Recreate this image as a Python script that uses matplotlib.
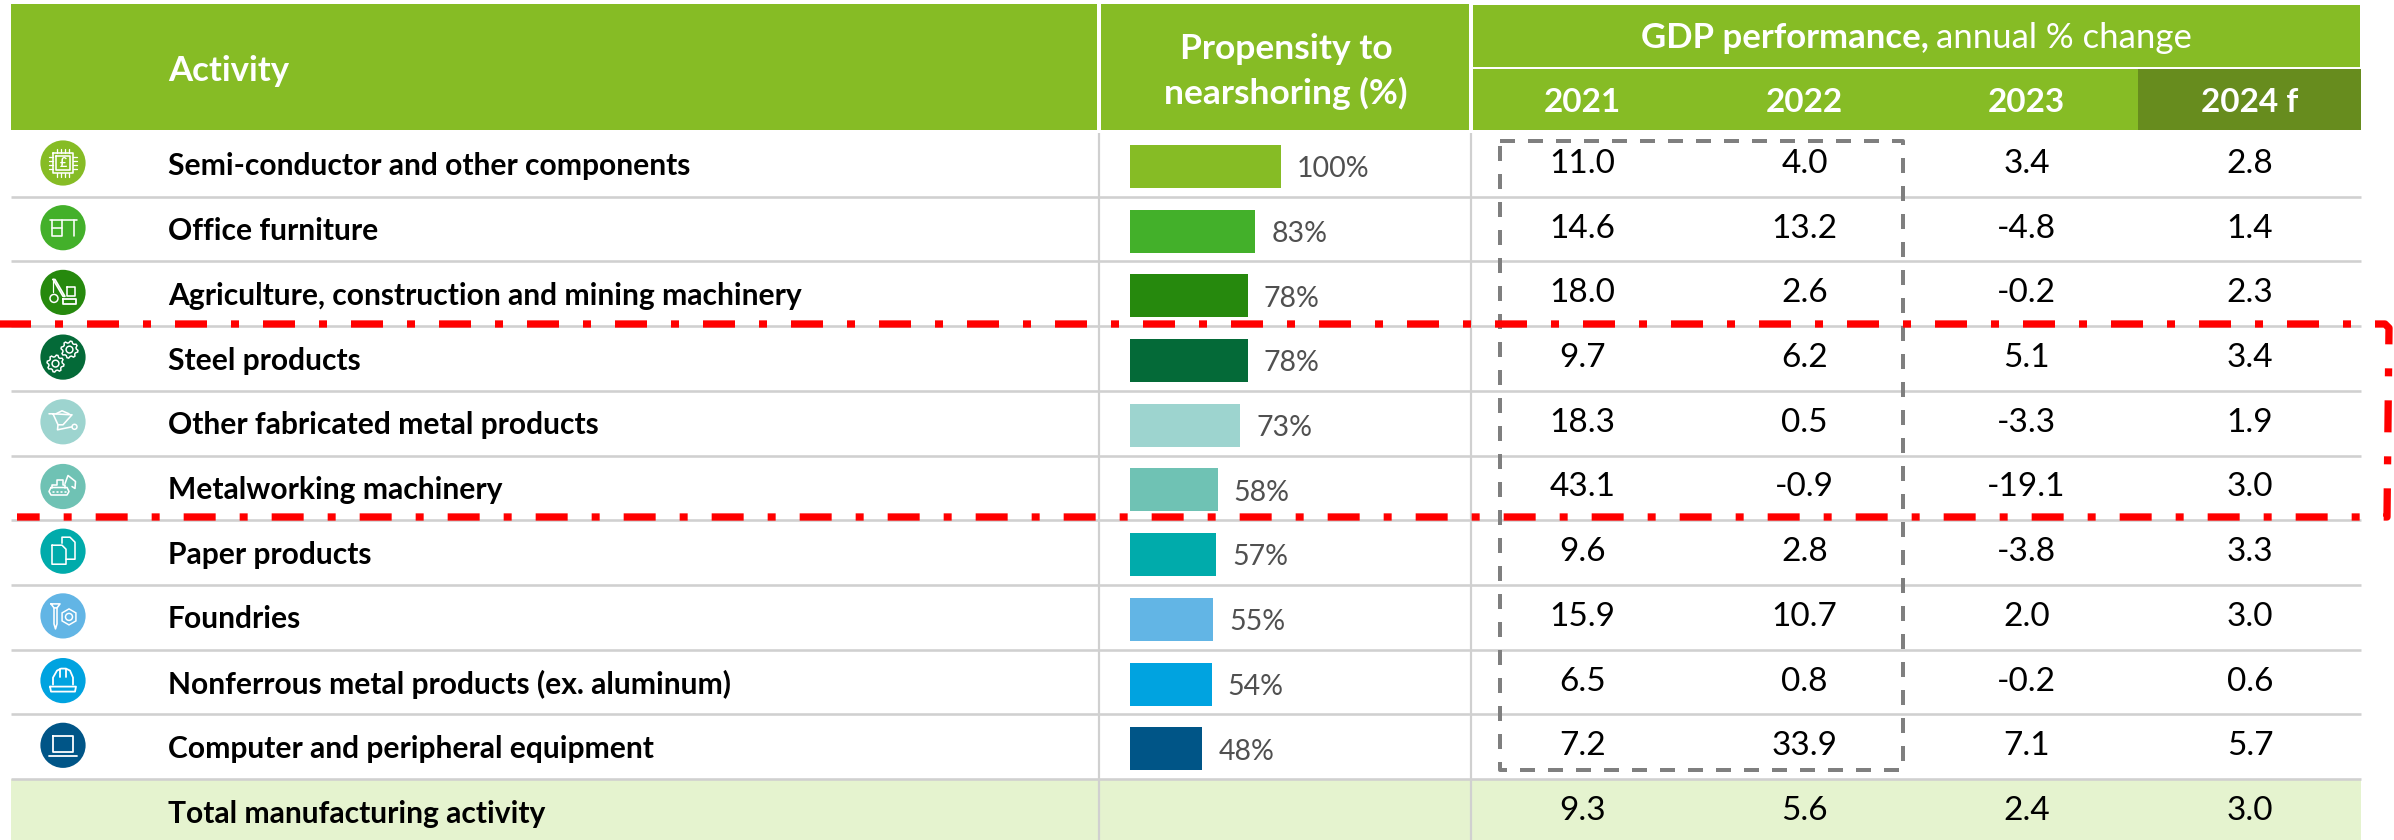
#!/usr/bin/env python3
"""Nearshoring propensity table with GDP performance by activity."""
import numpy as np
import matplotlib
matplotlib.use("Agg")
import matplotlib.pyplot as plt
from matplotlib.patches import Circle, Polygon, Rectangle, RegularPolygon

activities = [
    "Semi-conductor and other components",
    "Office furniture",
    "Agriculture, construction and mining machinery",
    "Steel products",
    "Other fabricated metal products",
    "Metalworking machinery",
    "Paper products",
    "Foundries",
    "Nonferrous metal products (ex. aluminum)",
    "Computer and peripheral equipment",
]
propensity = [100, 83, 78, 78, 73, 58, 57, 55, 54, 48]
gdp_2021 = ["11.0", "14.6", "18.0", "9.7", "18.3", "43.1", "9.6", "15.9", "6.5", "7.2"]
gdp_2022 = ["4.0", "13.2", "2.6", "6.2", "0.5", "-0.9", "2.8", "10.7", "0.8", "33.9"]
gdp_2023 = ["3.4", "-4.8", "-0.2", "5.1", "-3.3", "-19.1", "-3.8", "2.0", "-0.2", "7.1"]
gdp_2024 = ["2.8", "1.4", "2.3", "3.4", "1.9", "3.0", "3.3", "3.0", "0.6", "5.7"]
total_label = "Total manufacturing activity"
total_gdp = ["9.3", "5.6", "2.4", "3.0"]
years = ["2021", "2022", "2023", "2024 f"]
colors = ["#86BC25", "#43B02A", "#26890D", "#046A38", "#9DD4CF",
          "#6FC2B4", "#00ABAB", "#62B5E5", "#00A3E0", "#005587"]

GREEN = "#86BC25"
DARK_GREEN = "#678C1E"
RULE = "#D0D0D0"
PX = 0.72  # points per pixel at dpi 100
ROW_H = 64.7
LEFT, RIGHT = 11, 2361
COL_X = [1582.5, 1804.5, 2026.5, 2250]
FONT = "Lato"

plt.rcParams["font.family"] = [FONT, "DejaVu Sans"]
plt.rcParams["lines.scale_dashes"] = False

fig = plt.figure(figsize=(23.94, 8.4), dpi=100)
ax = fig.add_axes([0, 0, 1, 1])
ax.set_xlim(0, 2394)
ax.set_ylim(840, 0)
ax.axis("off")


def rect(x0, y0, x1, y1, color):
    ax.add_patch(Rectangle((x0, y0), x1 - x0, y1 - y0, fc=color, ec="none"))


# header blocks
rect(LEFT, 4, 1097, 130, GREEN)
rect(1101, 4, 1469, 130, GREEN)
rect(1473, 5, 2360, 66.5, GREEN)
rect(1473, 69, 2138, 130, GREEN)
rect(2138, 69, RIGHT, 130, DARK_GREEN)

# total row and rules
rect(LEFT, 779, RIGHT, 840, "#E5F3CF")
for i in range(1, 11):
    y = 130 + ROW_H * i + 2
    ax.plot([LEFT, RIGHT], [y, y], color=RULE, lw=2.6 * PX, solid_capstyle="butt", zorder=2)
for x in (1099, 1471):
    ax.plot([x, x], [133, 840], color=RULE, lw=2.2 * PX, solid_capstyle="butt", zorder=2)

# header text
ax.text(168, 71, "Activity", color="white", fontsize=25, fontweight="bold", va="center")
ax.text(1286, 49, "Propensity to", color="white", fontsize=25.5, fontweight="bold", ha="center", va="center")
ax.text(1286, 93, "nearshoring (%)", color="white", fontsize=25.5, fontweight="bold", ha="center", va="center")
ax.text(1641, 38, "GDP performance,", color="white", fontsize=25, fontweight="bold", va="center")
ax.text(1936, 38, "annual % change", color="white", fontsize=25, va="center")
for x, year in zip(COL_X, years):
    ax.text(x, 102, year, color="white", fontsize=24, fontweight="bold", ha="center", va="center")

# body text
columns = [gdp_2021, gdp_2022, gdp_2023, gdp_2024]
for i, name in enumerate(activities):
    y = 163 + ROW_H * i
    ax.text(168, y + 3.5, name, color="black", fontsize=21.6, fontweight="bold", va="center")
    for x, col in zip(COL_X, columns):
        ax.text(x, y + 1, col[i], color="black", fontsize=24, ha="center", va="center")
y_total = 163 + ROW_H * 10
ax.text(168, y_total + 3.5, total_label, color="black", fontsize=21.6, fontweight="bold", va="center")
for x, val in zip(COL_X, total_gdp):
    ax.text(x, y_total + 1, val, color="black", fontsize=24, ha="center", va="center")

# propensity bars
bar_top = 166.5 - ROW_H / 2
bar_bottom = bar_top + ROW_H * 10
ax_bar = fig.add_axes([1130 / 2394, 1 - bar_bottom / 840, 151 / 2394, (bar_bottom - bar_top) / 840])
ax_bar.patch.set_alpha(0)
ax_bar.axis("off")
ax_bar.set_xlim(0, 100)
ax_bar.set_ylim(9.5, -0.5)
ax_bar.barh(range(len(propensity)), propensity, height=43 / ROW_H, color=colors)
for i, v in enumerate(propensity):
    ax_bar.annotate(f"{v}%", (v, i), xytext=(16 * PX, -2), textcoords="offset points",
                    color="#505050", fontsize=20.5, va="center", annotation_clip=False)


# icons, drawn in pixels around each circle centre
def stroke(cx, cy, pts, lw=1.6):
    ax.plot([cx + p[0] for p in pts], [cy + p[1] for p in pts], color="white",
            lw=lw * PX, solid_capstyle="round", solid_joinstyle="round", zorder=4)


def outline(patch):
    patch.set(fc="none", ec="white", lw=1.5 * PX, zorder=4)
    ax.add_patch(patch)


def icon_chip(cx, cy):
    stroke(cx, cy, [(-10, -10), (10, -10), (10, 10), (-10, 10), (-10, -10)])
    stroke(cx, cy, [(-7, -7), (7, -7), (7, 7), (-7, 7), (-7, -7)])
    for d in (-6, -2, 2, 6):
        stroke(cx, cy, [(d, -14), (d, -10)], 1.3)
        stroke(cx, cy, [(d, 10), (d, 14)], 1.3)
        stroke(cx, cy, [(-14, d), (-10, d)], 1.3)
        stroke(cx, cy, [(10, d), (14, d)], 1.3)
    ax.text(cx, cy, "£", color="white", fontsize=9, fontweight="bold", ha="center", va="center", zorder=4)


def icon_desk(cx, cy):
    stroke(cx, cy, [(-13, -8), (14, -8)])
    stroke(cx, cy, [(-11, -8), (-11, 8), (-1, 8), (-1, -8)])
    stroke(cx, cy, [(-11, 0), (-1, 0)])
    stroke(cx, cy, [(11, -8), (11, 8)])


def icon_crane(cx, cy):
    stroke(cx, cy, [(-10, -13), (0, 4), (2, 4), (-8, -13), (-10, -13)])
    stroke(cx, cy, [(-10, -13), (-10, 0)], 1.2)
    outline(Circle((cx - 9, cy + 6), 4))
    stroke(cx, cy, [(4, -5), (12, -5), (12, 4), (4, 4), (4, -5)])
    stroke(cx, cy, [(0, 7), (13, 7), (13, 12), (0, 12), (0, 7)], 1.8)


def gear(cx, cy, r):
    # toothed outline: 8 teeth, two outer and two inner points each
    angles = (np.arange(32) + 0.5) * 2 * np.pi / 32
    radii = np.tile([r, r, r * 0.8, r * 0.8], 8)
    pts = np.column_stack([cx + radii * np.cos(angles), cy + radii * np.sin(angles)])
    outline(Polygon(pts, closed=True))
    outline(Circle((cx, cy), r * 0.4))


def icon_gears(cx, cy):
    gear(cx + 6.5, cy - 7.5, 8.5)
    gear(cx - 7.5, cy + 6.5, 8.5)


def icon_barrow(cx, cy):
    stroke(cx, cy, [(-14, -8), (-10, -8), (9, -7), (0, 3), (-5, 3), (-10, -8)])
    stroke(cx, cy, [(-7, -8), (-1, -11), (6, -8)])
    stroke(cx, cy, [(-5, 3), (-5.5, 8), (9, 5)])
    outline(Circle((cx + 11.5, cy + 5), 2.5))


def icon_excavator(cx, cy):
    stroke(cx, cy, [(-12, 1), (4, 1), (6, 5), (4, 8.5), (-12, 8.5), (-14, 5), (-12, 1)])
    stroke(cx, cy, [(-11, 1), (-11, -2), (-6, -2), (-6, -7), (0, -7), (0, -2), (2, -2), (2, 1)])
    stroke(cx, cy, [(2, -3), (5, -11), (12.5, -5), (12, 2), (9, 0)])
    for d in (-9, -5, -1, 3):
        stroke(cx, cy, [(d - 1, 5), (d, 5)], 1.6)


def icon_papers(cx, cy):
    stroke(cx, cy, [(-1, -8), (-1, -14), (7, -14), (12, -9), (12, 8), (3, 8)])
    stroke(cx, cy, [(-11, -6), (-1, -6), (3, -2), (3, 13), (-11, 13), (-11, -6)])


def icon_screw(cx, cy):
    stroke(cx, cy, [(-12, -12), (-3, -12), (-6, -8), (-9, -8), (-12, -12)])
    stroke(cx, cy, [(-9, -8), (-9, 8), (-7.5, 13), (-6, 8), (-6, -8)])
    outline(RegularPolygon((cx + 6, cy + 1), 6, radius=8))
    outline(Circle((cx + 6, cy + 1), 3.5))


def icon_hat(cx, cy):
    stroke(cx, cy, [(-10, 4), (-10, -3), (-6, -10), (-2, -12), (3, -12), (7, -10), (10, -3), (10, 4)], 1.8)
    stroke(cx, cy, [(-3, -12), (-3, -4)], 1.8)
    stroke(cx, cy, [(3, -12), (3, -4)], 1.8)
    stroke(cx, cy, [(-13, 6), (13, 6), (12, 11), (-12, 11), (-13, 6)], 1.8)


def icon_laptop(cx, cy):
    stroke(cx, cy, [(-10, -9), (10, -9), (10, 7), (-10, 7), (-10, -9)], 1.8)
    stroke(cx, cy, [(-14, 11), (14, 11)], 1.8)


icons = [icon_chip, icon_desk, icon_crane, icon_gears, icon_barrow,
         icon_excavator, icon_papers, icon_screw, icon_hat, icon_laptop]
for i, (draw_icon, color) in enumerate(zip(icons, colors)):
    cy = 163 + ROW_H * i
    ax.add_patch(Circle((63, cy), 22.6, fc=color, ec="none", zorder=3))
    draw_icon(63, cy)

# dashed highlight boxes
ax.plot([1500, 1903, 1903, 1500, 1500], [141, 141, 770, 770, 141], color="#7F7F7F",
        lw=4 * PX, ls=(0, (15 * PX, 13 * PX)), dash_capstyle="butt", zorder=5)
ax.plot([-9, 2385, 2389, 2387, 17], [324, 324, 328, 517, 517], color="#FF0000",
        lw=7.3 * PX, ls=(0, (32 * PX, 24 * PX, 8 * PX, 24 * PX)), dash_capstyle="butt",
        dash_joinstyle="round", zorder=6, clip_on=False)

fig.savefig("out.png", dpi=100)
